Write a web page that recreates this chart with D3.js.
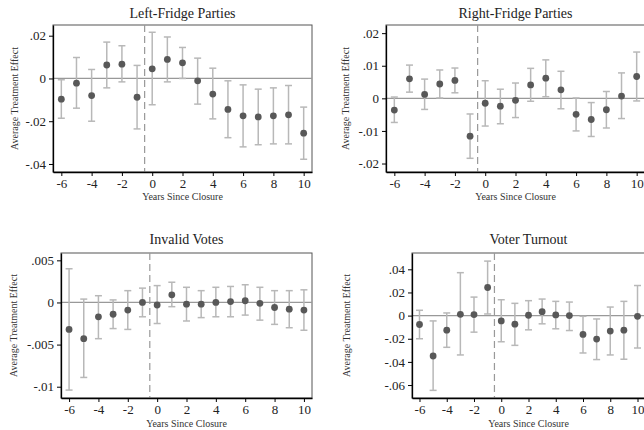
<!DOCTYPE html>
<html>
<head>
<meta charset="utf-8">
<script src="https://cdn.jsdelivr.net/npm/d3@7"></script>
<style>
  body { margin: 0; background: #fff; }
  svg text { font-family: "Liberation Serif", "Times New Roman", serif; }
</style>
</head>
<body>
<script>
const years = [-6, -5, -4, -3, -2, -1, 0, 1, 2, 3, 4, 5, 6, 7, 8, 9, 10]
const xTicks = [-6, -4, -2, 0, 2, 4, 6, 8, 10]

const leftEst = [-0.0097, -0.0022, -0.0080, 0.0063, 0.0067, -0.0088, 0.0045, 0.0089, 0.0073, -0.0011, -0.0073, -0.0145, -0.0175, -0.0180, -0.0175, -0.0170, -0.0256]
const leftLo = [-0.0186, -0.0139, -0.0200, -0.0044, -0.0016, -0.0236, -0.0123, -0.0016, 0.0000, -0.0120, -0.0189, -0.0277, -0.0320, -0.0310, -0.0306, -0.0306, -0.0378]
const leftHi = [-0.0006, 0.0098, 0.0042, 0.0170, 0.0153, 0.0061, 0.0216, 0.0194, 0.0145, 0.0095, 0.0048, -0.0011, -0.0030, -0.0050, -0.0044, -0.0033, -0.0134]
const leftTicks = [0.02, 0, -0.02, -0.04]

const rightEst = [-0.0036, 0.0060, 0.0012, 0.0044, 0.0055, -0.0116, -0.0015, -0.0024, -0.0006, 0.0041, 0.0062, 0.0026, -0.0049, -0.0065, -0.0035, 0.0007, 0.0067]
const rightLo = [-0.0074, 0.0019, -0.0034, 0.0001, 0.0017, -0.0184, -0.0085, -0.0078, -0.0059, -0.0009, 0.0005, -0.0032, -0.0100, -0.0117, -0.0091, -0.0062, -0.0008]
const rightHi = [0.0004, 0.0102, 0.0059, 0.0087, 0.0093, -0.0048, 0.0054, 0.0028, 0.0047, 0.0092, 0.0118, 0.0083, 0.0001, -0.0013, 0.0021, 0.0078, 0.0142]
const rightTicks = [0.02, 0.01, 0, -0.01, -0.02]

const invalidEst = [-0.0032, -0.0043, -0.0017, -0.0014, -0.0009, 0.0000, -0.0003, 0.0009, -0.0002, -0.0002, 0.0000, 0.0001, 0.0002, -0.0001, -0.0006, -0.0008, -0.0009]
const invalidLo = [-0.0104, -0.0089, -0.0043, -0.0031, -0.0032, -0.0017, -0.0025, -0.0005, -0.0022, -0.0018, -0.0017, -0.0017, -0.0015, -0.0021, -0.0026, -0.0030, -0.0033]
const invalidHi = [0.0040, 0.0004, 0.0008, 0.0003, 0.0014, 0.0017, 0.0020, 0.0024, 0.0018, 0.0014, 0.0018, 0.0019, 0.0021, 0.0018, 0.0014, 0.0014, 0.0015]
const invalidTicks = [0.005, 0, -0.005, -0.01]

const turnoutEst = [-0.0077, -0.0349, -0.0126, 0.0011, 0.0009, 0.0243, -0.0046, -0.0074, 0.0003, 0.0034, 0.0006, 0.0000, -0.0163, -0.0203, -0.0134, -0.0126, -0.0006]
const turnoutLo = [-0.0200, -0.0646, -0.0274, -0.0340, -0.0143, 0.0014, -0.0226, -0.0257, -0.0123, -0.0071, -0.0114, -0.0129, -0.0323, -0.0380, -0.0340, -0.0377, -0.0280]
const turnoutHi = [0.0046, -0.0046, 0.0023, 0.0371, 0.0160, 0.0471, 0.0137, 0.0106, 0.0129, 0.0143, 0.0123, 0.0117, -0.0006, -0.0029, 0.0074, 0.0123, 0.0260]
const turnoutTicks = [0.04, 0.02, 0, -0.02, -0.04, -0.06]

const closure = -0.5

const svg = d3.select('body').append('svg')
  .attr('width', 644)
  .attr('height', 430)
  .style('display', 'block')

// each panel: frame box in pixels, y range, where the titles sit
const panels = [
  { title: 'Left-Fridge Parties', est: leftEst, lo: leftLo, hi: leftHi, ticks: leftTicks,
    ydom: [-0.04375, 0.025], box: [53, 25, 312, 172], titleY: 18, xTitleY: 200, yTitleX: 14 },
  { title: 'Right-Fridge Parties', est: rightEst, lo: rightLo, hi: rightHi, ticks: rightTicks,
    ydom: [-0.0226, 0.0225], box: [386, 25, 645, 172], titleY: 18, xTitleY: 200, yTitleX: 345 },
  { title: 'Invalid Votes', est: invalidEst, lo: invalidLo, hi: invalidHi, ticks: invalidTicks,
    ydom: [-0.01134, 0.00587], box: [61, 253, 312, 398], titleY: 244, xTitleY: 427, yTitleX: 13 },
  { title: 'Voter Turnout', est: turnoutEst, lo: turnoutLo, hi: turnoutHi, ticks: turnoutTicks,
    ydom: [-0.0712, 0.0541], box: [412, 253, 645, 398], titleY: 244, xTitleY: 427, yTitleX: 346 }
]

const fmt = d => d === 0 ? '0' : String(d).replace('0.', '.')

panels.forEach(p => {
  const [x0, y0, x1, y1] = p.box
  const x = d3.scaleLinear().domain([-6.55, 10.55]).range([x0, x1])
  const y = d3.scaleLinear().domain(p.ydom).range([y1, y0])
  const g = svg.append('g')

  // frame
  g.append('rect')
    .attr('x', x0).attr('y', y0)
    .attr('width', x1 - x0).attr('height', y1 - y0)
    .attr('fill', 'none')
    .attr('stroke', '#555')
    .attr('stroke-width', 1)

  // zero line and closure marker
  g.append('line')
    .attr('x1', x0).attr('x2', x1)
    .attr('y1', y(0)).attr('y2', y(0))
    .attr('stroke', '#999').attr('stroke-width', 1.2)

  g.append('line')
    .attr('x1', x(closure)).attr('x2', x(closure))
    .attr('y1', y0).attr('y2', y1)
    .attr('stroke', '#999').attr('stroke-width', 1.2)
    .attr('stroke-dasharray', '7,4')

  // confidence intervals
  const bars = g.selectAll('.ci')
    .data(years)
    .enter()
    .append('g')
    .attr('class', 'ci')
    .attr('stroke', '#b8b8b8')
    .attr('stroke-width', 1.5)

  bars.append('line')
    .attr('x1', d => x(d)).attr('x2', d => x(d))
    .attr('y1', (d, i) => y(p.lo[i])).attr('y2', (d, i) => y(p.hi[i]))
  bars.append('line')
    .attr('x1', d => x(d) - 3.5).attr('x2', d => x(d) + 3.5)
    .attr('y1', (d, i) => y(p.lo[i])).attr('y2', (d, i) => y(p.lo[i]))
  bars.append('line')
    .attr('x1', d => x(d) - 3.5).attr('x2', d => x(d) + 3.5)
    .attr('y1', (d, i) => y(p.hi[i])).attr('y2', (d, i) => y(p.hi[i]))

  // point estimates
  g.selectAll('circle')
    .data(years)
    .enter()
    .append('circle')
    .attr('cx', d => x(d))
    .attr('cy', (d, i) => y(p.est[i]))
    .attr('r', 3.4)
    .attr('fill', '#585858')

  // axes
  const xAxis = g.append('g')
    .attr('transform', `translate(0,${y1})`)
    .call(d3.axisBottom(x).tickValues(xTicks).tickFormat(d => String(d)).tickSize(4).tickPadding(3).tickSizeOuter(0))
  const yAxis = g.append('g')
    .attr('transform', `translate(${x0},0)`)
    .call(d3.axisLeft(y).tickValues(p.ticks).tickFormat(fmt).tickSize(4).tickPadding(3).tickSizeOuter(0))

  ;[xAxis, yAxis].forEach(a => {
    a.attr('font-family', null).attr('font-size', null)
    a.select('.domain').attr('stroke', '#000').attr('stroke-width', 1.3)
    a.selectAll('.tick line').attr('stroke', '#000')
    a.selectAll('.tick text').attr('fill', '#222').style('font-size', '13px')
  })

  // titles
  g.append('text')
    .attr('x', (x0 + x1) / 2).attr('y', p.titleY)
    .attr('text-anchor', 'middle')
    .style('font-size', '14px')
    .attr('fill', '#222')
    .text(p.title)

  g.append('text')
    .attr('x', (x0 + x1) / 2).attr('y', p.xTitleY)
    .attr('text-anchor', 'middle')
    .style('font-size', '10px')
    .attr('fill', '#333')
    .text('Years Since Closure')

  g.append('text')
    .attr('transform', `translate(${p.yTitleX},${(y0 + y1) / 2}) rotate(-90)`)
    .attr('dy', '0.35em')
    .attr('text-anchor', 'middle')
    .style('font-size', '10px')
    .attr('fill', '#333')
    .text('Average Treatment Effect')
})
</script>
</body>
</html>
